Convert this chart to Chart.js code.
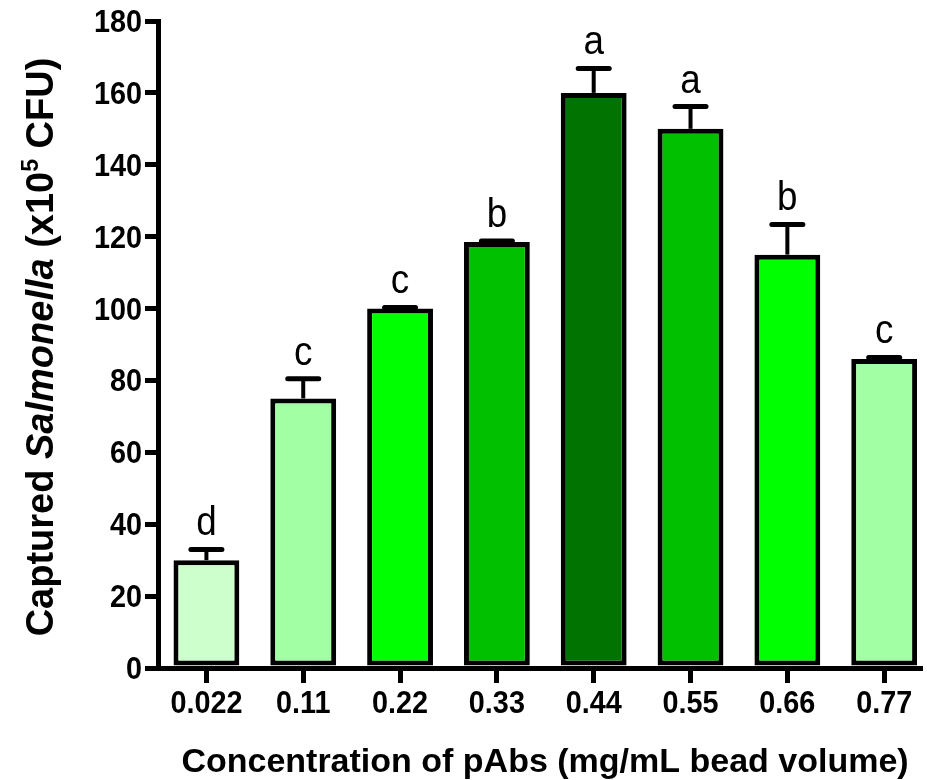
<!DOCTYPE html>
<html>
<head>
<meta charset="utf-8">
<script src="https://cdn.jsdelivr.net/npm/chart.js@4.4.1/dist/chart.umd.min.js"></script>
<style>
  html, body { margin: 0; padding: 0; background: #fff; }
  #wrap { width: 927px; height: 780px; position: relative; }
</style>
</head>
<body>
<div id="wrap"><canvas id="c" width="927" height="780"></canvas></div>
<script>
// pAbs concentration (mg/mL bead volume) on the x axis
const concentrations = ['0.022', '0.11', '0.22', '0.33', '0.44', '0.55', '0.66', '0.77'];
// mean captured Salmonella (x10^5 CFU)
const captured = [30, 75, 100, 118.5, 160, 150, 115, 86];
// standard deviation (upper whisker only)
const sd = [3, 5.5, 0.3, 0.3, 6.8, 6.2, 8.4, 0.4];
// significance groups
const groups = ['d', 'c', 'c', 'b', 'a', 'a', 'b', 'c'];
const fills = ['#ccffcc', '#a3ffa3', '#00ff00', '#00c000', '#007300', '#00c000', '#00ff00', '#a3ffa3'];
const yTicks = [0, 20, 40, 60, 80, 100, 120, 140, 160, 180];

const FONT = '"Liberation Sans", Arial, sans-serif';

// text drawn slightly condensed, like the original Arial output
function condensedText(ctx, text, x, y, font, sx, align) {
  ctx.save();
  ctx.font = font;
  ctx.textAlign = align;
  ctx.textBaseline = 'alphabetic';
  ctx.translate(x, y);
  ctx.scale(sx, 1);
  ctx.fillText(text, 0, 0);
  ctx.restore();
}

// tick labels placed from the scales' own tick positions
const tickLabels = {
  id: 'tickLabels',
  afterDraw(chart) {
    const ctx = chart.ctx;
    const xs = chart.scales.x, ys = chart.scales.y;
    ctx.save();
    ctx.fillStyle = '#000';
    xs.ticks.forEach(t => {
      condensedText(ctx, concentrations[t.value], xs.getPixelForValue(t.value), 713,
        'bold 32px ' + FONT, 0.9, 'center');
    });
    ys.ticks.forEach(t => {
      condensedText(ctx, String(t.value), 142, ys.getPixelForValue(t.value) + 11,
        'bold 31px ' + FONT, 0.93, 'right');
    });
    ctx.restore();
  }
};

// whiskers with caps, plus the group letter above each bar
const errorBars = {
  id: 'errorBars',
  afterDatasetsDraw(chart) {
    const ctx = chart.ctx;
    const ys = chart.scales.y;
    const meta = chart.getDatasetMeta(0);
    ctx.save();
    ctx.strokeStyle = '#000';
    ctx.fillStyle = '#000';
    meta.data.forEach((bar, i) => {
      const top = ys.getPixelForValue(captured[i]);
      const capY = ys.getPixelForValue(captured[i] + sd[i]);
      ctx.lineCap = 'butt';
      ctx.lineWidth = 4;
      ctx.beginPath();
      ctx.moveTo(bar.x, top);
      ctx.lineTo(bar.x, capY);
      ctx.stroke();
      ctx.lineCap = 'round';
      ctx.lineWidth = 5;
      ctx.beginPath();
      ctx.moveTo(bar.x - 15.5, capY);
      ctx.lineTo(bar.x + 15.5, capY);
      ctx.stroke();
      condensedText(ctx, groups[i], bar.x, capY - 14, '40px ' + FONT, 0.92, 'center');
    });
    ctx.restore();
  }
};

// axis titles (the y title mixes bold, bold italic and a superscript)
const axisTitles = {
  id: 'axisTitles',
  afterDraw(chart) {
    const ctx = chart.ctx;
    ctx.save();
    ctx.fillStyle = '#000';
    ctx.textBaseline = 'alphabetic';
    ctx.textAlign = 'center';
    ctx.font = 'bold 34px ' + FONT;
    ctx.fillText('Concentration of pAbs (mg/mL bead volume)', 545, 772);

    const parts = [
      { t: 'Captured ', f: 'bold 38px ' + FONT, dy: 0 },
      { t: 'Salmonella', f: 'italic bold 38px ' + FONT, dy: 0 },
      { t: ' (x10', f: 'bold 38px ' + FONT, dy: 0 },
      { t: '5', f: 'bold 23px ' + FONT, dy: -15 },
      { t: ' CFU)', f: 'bold 38px ' + FONT, dy: 0 }
    ];
    let total = 0;
    parts.forEach(p => { ctx.font = p.f; p.w = ctx.measureText(p.t).width; total += p.w; });
    ctx.translate(53, 347);
    ctx.rotate(-Math.PI / 2);
    ctx.textAlign = 'left';
    let x = -total / 2;
    parts.forEach(p => { ctx.font = p.f; ctx.fillText(p.t, x, p.dy); x += p.w; });
    ctx.restore();
  }
};

new Chart(document.getElementById('c'), {
  type: 'bar',
  data: {
    datasets: [{
      data: captured.map((v, i) => ({ x: i, y: v })),
      backgroundColor: fills,
      borderColor: '#000',
      borderWidth: 5,
      borderSkipped: false,
      barPercentage: 0.68,
      categoryPercentage: 1
    }]
  },
  options: {
    responsive: false,
    animation: false,
    layout: { padding: { top: 21, right: 7, left: 0, bottom: 0 } },
    plugins: { legend: { display: false }, tooltip: { enabled: false }, title: { display: false } },
    scales: {
      x: {
        type: 'linear',
        offset: false,
        min: -0.5,
        max: 7.37,
        afterBuildTicks: s => { s.ticks = concentrations.map((_, i) => ({ value: i })); },
        afterFit: s => { s.height = 112; },
        ticks: { display: false },
        grid: { offset: false, drawOnChartArea: false, drawTicks: true, tickLength: 15, tickWidth: 5, tickColor: '#000', lineWidth: 5, color: '#000' },
        border: { display: true, width: 5, color: '#000' }
      },
      y: {
        min: 0,
        max: 180,
        afterBuildTicks: s => { s.ticks = yTicks.map(v => ({ value: v })); },
        afterFit: s => { s.width = 158; },
        ticks: { display: false },
        grid: { drawOnChartArea: false, drawTicks: true, tickLength: 13, tickWidth: 5, tickColor: '#000', lineWidth: 5, color: '#000' },
        border: { display: true, width: 5, color: '#000' }
      }
    }
  },
  plugins: [errorBars, tickLabels, axisTitles]
});
</script>
</body>
</html>
